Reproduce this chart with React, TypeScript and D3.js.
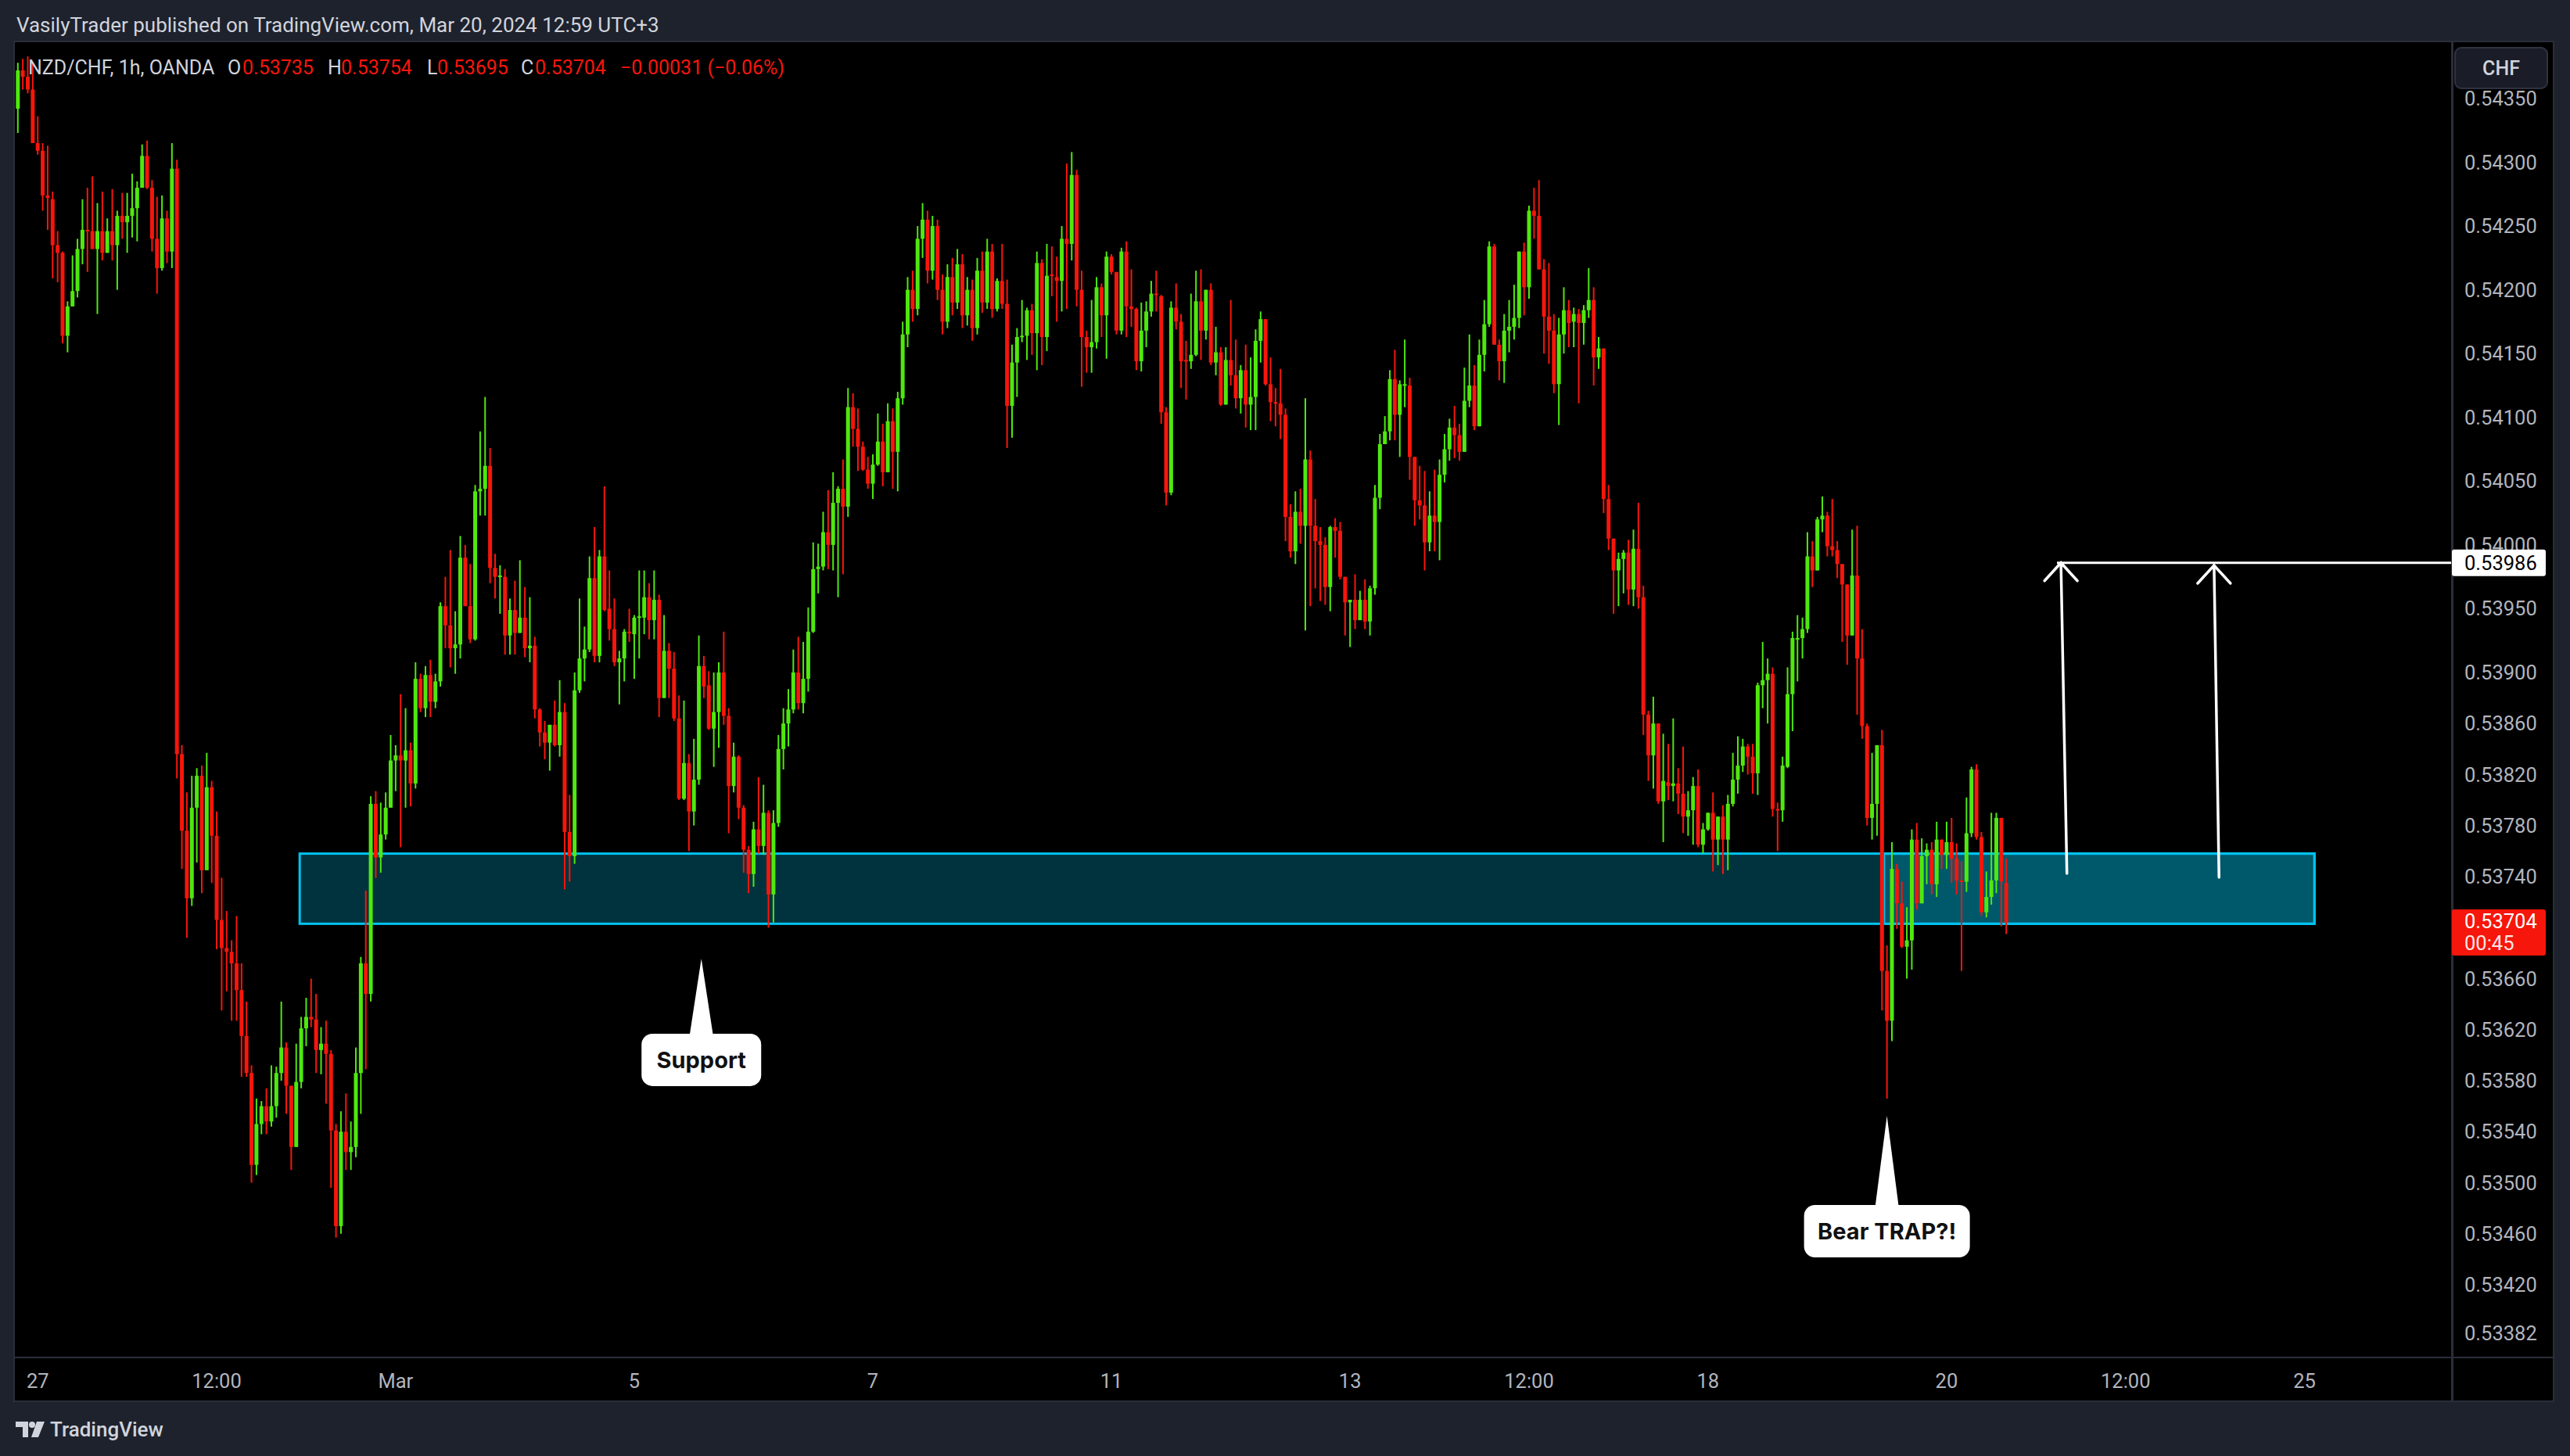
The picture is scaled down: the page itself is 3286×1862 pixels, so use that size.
import React, { useEffect } from "react";
import * as d3 from "d3";

// ---- OHLC data, hourly bars, in 1e-5 units (0.53735 -> 53735) ----
const OPEN = [
  54342,54372,54367,54357,54315,54309,54274,54271,54235,54229,
  54164,54187,54199,54232,54247,54246,54232,54246,54229,54246,
  54235,54258,54253,54258,54264,54280,54305,54280,54240,54217,
  54256,54230,54295,53836,53776,53723,53794,53819,53745,53810,
  53772,53706,53684,53681,53672,53651,53615,53586,53514,53546,
  53560,53548,53560,53586,53606,53576,53528,53579,53621,53630,
  53628,53604,53609,53601,53541,53466,53540,53524,53528,53586,
  53672,53648,53797,53755,53773,53794,53831,53835,53831,53839,
  53813,53895,53872,53898,53877,53893,53952,53937,53919,53922,
  53990,53952,53926,54042,54044,54062,53982,53975,53975,53929,
  53949,53931,53943,53919,53921,53871,53853,53845,53859,53843,
  53869,53775,53756,53886,53911,53918,53974,53913,53991,53950,
  53934,53908,53911,53932,53930,53943,53943,53959,53941,53957,
  53880,53917,53903,53864,53801,53829,53791,53816,53905,53890,
  53856,53869,53900,53866,53811,53834,53794,53761,53742,53777,
  53764,53790,53726,53782,53840,53860,53871,53900,53876,53895,
  53932,53981,53983,54010,54000,54033,54044,54030,54108,54091,
  54077,54059,54048,54063,54081,54057,54097,54073,54115,54165,
  54200,54185,54240,54255,54215,54250,54200,54175,54210,54190,
  54220,54180,54200,54170,54215,54190,54230,54185,54207,54189,
  54109,54143,54163,54164,54184,54166,54221,54163,54212,54210,
  54207,54240,54236,54290,54200,54163,54155,54159,54202,54180,
  54226,54214,54168,54230,54187,54185,54144,54168,54183,54197,
  54195,54104,54041,54186,54175,54145,54144,54149,54191,54168,
  54200,54143,54151,54110,54145,54133,54115,54137,54110,54116,
  54160,54177,54126,54112,54111,54102,54022,53995,54026,54015,
  54067,54015,54003,54000,53967,54014,54011,53975,53955,53957,
  53941,53957,53940,53966,54037,54079,54089,54130,54102,54126,
  54125,54069,54035,54031,54002,54023,54018,54055,54075,54092,
  54086,54073,54113,54125,54093,54149,54173,54234,54157,54144,
  54168,54171,54178,54230,54202,54262,54258,54216,54179,54168,
  54126,54165,54184,54175,54181,54174,54184,54192,54147,54154,
  54036,54005,53980,53989,53994,53965,53997,53959,53867,53835,
  53860,53799,53814,53811,53813,53805,53787,53792,53811,53765,
  53777,53790,53769,53787,53769,53797,53816,53827,53842,53834,
  53821,53890,53894,53899,53793,53792,53826,53883,53927,53927,
  53934,53991,53980,54020,54023,53999,53996,53985,53969,53929,
  53976,53911,53858,53786,53797,53843,53666,53627,53746,53719,
  53685,53690,53769,53719,53756,53761,53734,53769,53757,53767,
  53754,53737,53736,53774,53824,53771,53712,53724,53737,53786,
  53735,
];
const HIGH = [
  54378,54381,54383,54378,54336,54315,54313,54277,54246,54230,
  54191,54227,54240,54271,54280,54289,54268,54277,54256,54279,
  54262,54276,54276,54291,54285,54314,54317,54286,54273,54274,
  54262,54315,54302,53843,53806,53819,53825,53827,53837,53815,
  53791,53739,53713,53690,53709,53672,53642,53592,53566,53564,
  53574,53592,53591,53642,53610,53576,53609,53630,53645,53660,
  53648,53622,53627,53604,53546,53556,53570,53548,53606,53677,
  53729,53803,53807,53798,53806,53851,53843,53883,53872,53845,
  53908,53899,53905,53910,53899,53955,53975,53996,53948,54007,
  54000,53985,54047,54089,54116,54076,53993,53984,53981,53958,
  53972,53988,53967,53959,53928,53872,53862,53859,53878,53894,
  53876,53804,53900,53958,53936,53991,54014,53996,54046,53980,
  53958,53917,53934,53950,53945,53980,53980,53970,53980,53961,
  53945,53923,53916,53882,53878,53836,53848,53929,53913,53901,
  53900,53908,53932,53872,53845,53835,53796,53764,53783,53818,
  53812,53792,53792,53851,53872,53887,53918,53928,53924,53951,
  54002,54001,54026,54043,54057,54046,54067,54123,54119,54107,
  54081,54069,54071,54103,54095,54111,54107,54120,54175,54210,
  54215,54250,54268,54262,54258,54255,54212,54220,54225,54232,
  54228,54210,54208,54225,54230,54240,54236,54209,54236,54208,
  54157,54170,54192,54186,54189,54230,54224,54236,54234,54226,
  54250,54299,54308,54294,54215,54168,54192,54210,54205,54230,
  54228,54214,54233,54238,54216,54186,54190,54191,54207,54215,
  54196,54108,54191,54205,54181,54160,54197,54215,54216,54200,
  54205,54171,54155,54155,54192,54161,54141,54157,54147,54169,
  54183,54177,54147,54123,54138,54107,54032,54042,54044,54115,
  54074,54036,54014,54006,54015,54021,54018,53975,53957,53977,
  53964,53973,53968,54047,54087,54101,54137,54153,54129,54161,
  54131,54069,54062,54058,54042,54059,54067,54087,54099,54109,
  54095,54139,54165,54141,54161,54192,54238,54236,54161,54181,
  54192,54204,54230,54237,54266,54280,54286,54224,54221,54181,
  54178,54202,54192,54186,54185,54188,54217,54202,54163,54154,
  54047,54005,53994,53996,54004,54012,54033,53968,53870,53881,
  53860,53852,53844,53864,53825,53842,53807,53818,53824,53782,
  53790,53806,53787,53796,53804,53837,53850,53848,53844,53844,
  53892,53924,53911,53904,53798,53834,53904,53932,53945,53943,
  54010,54003,54022,54038,54026,54036,54003,53985,53969,54012,
  54015,53934,53860,53837,53843,53855,53686,53767,53750,53736,
  53716,53777,53782,53770,53766,53767,53783,53769,53783,53786,
  53766,53752,53802,53826,53828,53775,53744,53790,53790,53786,
  53754,
];
const LOW = [
  54323,54357,54354,54315,54306,54262,54247,54209,54206,54158,
  54151,54187,54194,54220,54214,54232,54181,54223,54229,54223,
  54200,54240,54229,54241,54238,54280,54279,54230,54197,54215,
  54221,54217,53817,53746,53692,53717,53751,53727,53745,53735,
  53683,53635,53650,53627,53627,53583,53583,53500,53506,53538,
  53538,53544,53551,53580,53554,53510,53528,53574,53607,53622,
  53586,53585,53562,53496,53457,53460,53510,53510,53520,53554,
  53589,53642,53739,53743,53769,53794,53807,53763,53794,53795,
  53809,53869,53865,53865,53872,53889,53919,53904,53899,53911,
  53952,53923,53925,54023,54023,53970,53958,53946,53914,53914,
  53914,53931,53912,53908,53864,53842,53832,53823,53842,53834,
  53730,53736,53750,53884,53893,53916,53908,53908,53948,53925,
  53905,53875,53893,53924,53895,53911,53930,53926,53926,53865,
  53880,53880,53862,53800,53800,53760,53780,53812,53880,53855,
  53826,53841,53859,53774,53806,53785,53743,53727,53732,53758,
  53757,53700,53704,53779,53824,53842,53868,53871,53868,53885,
  53931,53962,53980,53981,53980,53959,53977,54022,54077,54058,
  54058,54044,54036,54062,54046,54057,54044,54042,54110,54155,
  54175,54180,54225,54205,54208,54192,54165,54170,54180,54185,
  54170,54172,54160,54165,54182,54185,54178,54183,54185,54076,
  54084,54116,54159,54145,54149,54137,54141,54152,54195,54175,
  54183,54185,54223,54187,54124,54135,54135,54154,54163,54146,
  54212,54165,54165,54163,54171,54137,54136,54155,54179,54183,
  54095,54031,54039,54169,54123,54114,54138,54148,54145,54161,
  54141,54133,54109,54110,54125,54107,54103,54092,54090,54090,
  54143,54125,54097,54093,54083,54003,53990,53985,54001,53933,
  53952,53966,53956,53953,53948,53990,53973,53929,53920,53934,
  53941,53934,53929,53961,54028,54079,54082,54082,54069,54108,
  54051,54015,54020,53980,53995,53995,53988,54049,54066,54068,
  54066,54073,54108,54090,54093,54136,54171,54157,54129,54127,
  54151,54161,54170,54180,54193,54240,54216,54150,54142,54119,
  54094,54150,54155,54155,54111,54157,54178,54125,54138,54025,
  53996,53946,53952,53962,53953,53952,53950,53851,53815,53809,
  53797,53767,53800,53799,53789,53774,53772,53765,53763,53758,
  53776,53744,53749,53742,53745,53795,53805,53822,53820,53805,
  53804,53872,53860,53787,53760,53783,53825,53854,53893,53911,
  53931,53967,53980,54010,53991,53991,53974,53924,53906,53929,
  53867,53848,53780,53769,53772,53635,53566,53611,53699,53684,
  53660,53667,53714,53719,53734,53726,53724,53746,53746,53735,
  53726,53666,53728,53771,53769,53709,53708,53718,53727,53701,
  53695,
];
const CLOSE = [
  54372,54367,54357,54315,54309,54274,54272,54235,54229,54164,
  54187,54199,54232,54247,54246,54232,54246,54229,54246,54235,
  54258,54253,54258,54264,54280,54305,54280,54240,54217,54256,
  54230,54295,53836,53776,53723,53794,53819,53745,53810,53772,
  53706,53684,53681,53672,53651,53615,53586,53514,53546,53560,
  53548,53560,53586,53606,53576,53528,53579,53621,53630,53628,
  53604,53609,53601,53541,53466,53540,53524,53528,53586,53672,
  53648,53797,53755,53773,53794,53831,53835,53831,53839,53813,
  53895,53872,53898,53877,53893,53952,53937,53919,53922,53990,
  53952,53926,54042,54044,54062,53982,53975,53976,53929,53949,
  53931,53943,53919,53921,53871,53853,53845,53859,53843,53869,
  53775,53756,53886,53911,53918,53974,53913,53991,53949,53934,
  53908,53911,53932,53931,53943,53944,53959,53941,53957,53880,
  53917,53903,53864,53801,53829,53791,53816,53905,53889,53856,
  53869,53900,53866,53811,53834,53794,53761,53742,53777,53764,
  53790,53726,53782,53840,53860,53871,53900,53876,53895,53932,
  53981,53983,54010,54000,54033,54044,54030,54108,54091,54077,
  54059,54048,54063,54081,54057,54097,54073,54115,54165,54200,
  54185,54240,54255,54215,54250,54200,54175,54210,54190,54220,
  54180,54200,54170,54215,54190,54230,54185,54207,54189,54109,
  54143,54163,54164,54184,54166,54221,54163,54211,54211,54207,
  54240,54236,54290,54200,54163,54155,54159,54202,54180,54226,
  54214,54168,54230,54187,54185,54144,54168,54183,54197,54196,
  54104,54041,54186,54175,54144,54144,54149,54191,54168,54200,
  54143,54151,54110,54145,54133,54115,54137,54110,54116,54160,
  54177,54126,54112,54111,54102,54022,53995,54026,54015,54067,
  54015,54003,54000,53967,54014,54011,53975,53955,53957,53941,
  53957,53940,53966,54037,54079,54089,54130,54102,54126,54126,
  54069,54035,54031,54002,54023,54018,54055,54075,54092,54086,
  54073,54113,54125,54093,54149,54173,54234,54157,54144,54168,
  54171,54178,54230,54202,54262,54258,54216,54179,54168,54126,
  54165,54184,54174,54181,54174,54184,54192,54147,54154,54036,
  54005,53980,53989,53994,53965,53997,53959,53867,53835,53860,
  53799,53815,53811,53813,53805,53787,53792,53811,53765,53777,
  53790,53769,53787,53769,53797,53816,53827,53842,53834,53821,
  53890,53894,53899,53793,53792,53827,53883,53927,53927,53934,
  53991,53980,54020,54023,53999,53996,53985,53969,53929,53976,
  53911,53858,53786,53797,53843,53666,53627,53746,53719,53685,
  53690,53769,53719,53756,53761,53734,53769,53757,53767,53754,
  53737,53736,53774,53824,53771,53712,53724,53737,53786,53736,
  53704,
];

// ---- axes ----
const PRICE_TICKS = [0.5435, 0.543, 0.5425, 0.542, 0.5415, 0.541, 0.5405, 0.54, 0.5395, 0.539,
  0.5386, 0.5382, 0.5378, 0.5374, 0.5366, 0.5362, 0.5358, 0.5354, 0.535, 0.5346, 0.5342, 0.53382];
const TIME_LABELS = ["27", "12:00", "Mar", "5", "7", "11", "13", "12:00", "18", "20", "12:00", "25"];
const TIME_BARS = [4, 40, 76, 124, 172, 220, 268, 304, 340, 388, 424, 460];

// ---- drawings ----
const ZONE_TOP = 0.53758;
const ZONE_BOTTOM = 0.53703;
const ZONE_FROM = [56.7, 375.4];
const ZONE_TO = 462;
const TARGET_PRICE = 0.53986;
const TARGET_FROM = 410.2;
const ARROW_FROM_BAR = [412.2, 442.8];
const ARROW_TO_BAR = [411.0, 441.8];
const ARROW_FROM_PRICE = [0.537425, 0.537394];
const ARROW_TO_PRICE = [0.53986, 0.53984];
const CALLOUT_TEXT = ["Support", "Bear TRAP?!"];
const CALLOUT_BAR = [137.5, 376];
const CALLOUT_PRICE = [0.536757, 0.535524];
const CALLOUT_GAP = [96, 114];
const CALLOUT_W = [153, 212];

const LAST_PRICE = "0.53704";
const COUNTDOWN = "00:45";

const BG = "#1e222d";
const UP = "#4fe80e";
const DOWN = "#f6160b";
const AXIS_TXT = "#b2b5be";
const TXT = "#d1d4dc";
const SEP = "#2a2e39";

export default function App() {
  useEffect(() => {
    document.body.style.margin = "0";
    document.body.style.background = BG;
  }, []);

  const x = d3.scaleLinear().domain([0, 400]).range([22.8, 2565.2]);
  const y = d3.scaleLinear().domain([0.5342, 0.543]).range([1643, 207.5]);
  const py = (v: number) => y(v / 1e5);
  const bars = d3.range(OPEN.length);
  const bodyW = 5;

  const plotL = 19, plotT = 54, plotR = 3134, plotB = 1735;
  const axL = 3137, axR = 3264;

  return (
    <svg width={3286} height={1862} style={{ display: "block" }} fontFamily="Roboto, 'Liberation Sans', sans-serif">
      <rect x={0} y={0} width={3286} height={1862} fill={BG} />
      <rect x={17} y={52} width={axR - 17 + 2} height={1793 - 52} fill={SEP} />
      <rect x={plotL} y={plotT} width={plotR - plotL} height={plotB - plotT} fill="#000" />
      <rect x={axL} y={plotT} width={axR - axL} height={plotB - plotT} fill="#000" />
      <rect x={plotL} y={plotB + 2} width={plotR - plotL} height={54} fill="#000" />
      <rect x={axL} y={plotB + 2} width={axR - axL} height={54} fill="#000" />

      <defs>
        <clipPath id="plotclip">
          <rect x={plotL} y={plotT} width={plotR - plotL} height={plotB - plotT} />
        </clipPath>
      </defs>

      <g clipPath="url(#plotclip)">
        {/* zone rectangles */}
        {ZONE_FROM.map((f, k) => (
          <rect key={"z" + k} x={x(f)} y={y(ZONE_TOP)} width={x(ZONE_TO) - x(f)}
            height={y(ZONE_BOTTOM) - y(ZONE_TOP)} fill="rgba(0,188,230,0.27)"
            stroke="#00c3f0" strokeWidth={3} />
        ))}

        {/* candles */}
        {bars.map((i) => {
          const o = OPEN[i], c = CLOSE[i], h = HIGH[i], l = LOW[i];
          const col = c >= o ? UP : DOWN;
          const cx = x(i);
          const top = py(Math.max(o, c));
          const bot = py(Math.min(o, c));
          return (
            <g key={i}>
              <line x1={cx} x2={cx} y1={py(h)} y2={py(l)} stroke={col} strokeWidth={2} />
              <rect x={cx - bodyW / 2} y={top} width={bodyW} height={Math.max(2, bot - top)} fill={col} />
            </g>
          );
        })}

        {/* target line and arrows */}
        <line x1={x(TARGET_FROM)} x2={plotR} y1={y(TARGET_PRICE)} y2={y(TARGET_PRICE)} stroke="#fff" strokeWidth={3} />
        {ARROW_FROM_BAR.map((b, k) => {
          const x1 = x(b), y1 = y(ARROW_FROM_PRICE[k]);
          const x2 = x(ARROW_TO_BAR[k]), y2 = y(ARROW_TO_PRICE[k]);
          return (
            <g key={"a" + k} stroke="#fff" strokeWidth={3.5} strokeLinecap="round" fill="none">
              <line x1={x1} y1={y1} x2={x2} y2={y2} />
              <polyline points={`${x2 - 21},${y2 + 23} ${x2},${y2} ${x2 + 21},${y2 + 23}`} />
            </g>
          );
        })}

        {/* callouts */}
        {CALLOUT_TEXT.map((t, k) => {
          const tx = x(CALLOUT_BAR[k]);
          const ty = y(CALLOUT_PRICE[k]);
          const bt = ty + CALLOUT_GAP[k];
          const w = CALLOUT_W[k];
          const hgt = 67;
          return (
            <g key={"c" + k}>
              <path d={`M${tx},${ty} L${tx + 15},${bt + 2} L${tx - 15},${bt + 2} Z`} fill="#fff" />
              <rect x={tx - w / 2} y={bt} width={w} height={hgt} rx={14} fill="#fff" />
              <text x={tx} y={bt + hgt / 2} textAnchor="middle" dominantBaseline="central"
                fontFamily="Inter, Roboto, sans-serif" fontWeight={700} fontSize={29} fill="#111">{t}</text>
            </g>
          );
        })}

        {/* legend */}
        <g fontSize={25} dominantBaseline="central">
          <text x={36} y={86} fill={TXT}>NZD/CHF, 1h, OANDA</text>
          <text x={291} y={86} fill={TXT}>O</text>
          <text x={310} y={86} fill={DOWN}>0.53735</text>
          <text x={419} y={86} fill={TXT}>H</text>
          <text x={436} y={86} fill={DOWN}>0.53754</text>
          <text x={546} y={86} fill={TXT}>L</text>
          <text x={559} y={86} fill={DOWN}>0.53695</text>
          <text x={666} y={86} fill={TXT}>C</text>
          <text x={684} y={86} fill={DOWN}>0.53704</text>
          <text x={793} y={86} fill={DOWN}>−0.00031 (−0.06%)</text>
        </g>
      </g>

      {/* price axis */}
      <g fontSize={25.5} fill={AXIS_TXT} dominantBaseline="central">
        {PRICE_TICKS.map((p) => (
          <text key={p} x={3151} y={y(p)}>{p.toFixed(5)}</text>
        ))}
      </g>
      <rect x={3135} y={y(TARGET_PRICE) - 17} width={120} height={34} rx={3} fill="#fff" />
      <text x={3151} y={y(TARGET_PRICE)} fontSize={25.5} fill="#000" dominantBaseline="central">{TARGET_PRICE.toFixed(5)}</text>
      <rect x={3135} y={1163} width={120} height={59} rx={3} fill={DOWN} />
      <text x={3151} y={1178} fontSize={25.5} fill="#fff" dominantBaseline="central">{LAST_PRICE}</text>
      <text x={3151} y={1206} fontSize={25.5} fill="#fde6e4" dominantBaseline="central">{COUNTDOWN}</text>

      <rect x={3139} y={61} width={118} height={52} rx={8} fill="#1a1d27" stroke="#2f3340" strokeWidth={2} />
      <text x={3198} y={87} textAnchor="middle" dominantBaseline="central" fontSize={25} fontWeight={500} fill={TXT}>CHF</text>

      {/* time axis */}
      <g fontSize={25.5} fill={AXIS_TXT} textAnchor="middle" dominantBaseline="central">
        {TIME_LABELS.map((t, k) => (
          <text key={k} x={x(TIME_BARS[k])} y={1766}>{t}</text>
        ))}
      </g>

      {/* header */}
      <text x={21} y={32} fontSize={26} fill={TXT} dominantBaseline="central">
        VasilyTrader published on TradingView.com, Mar 20, 2024 12:59 UTC+3
      </text>

      {/* footer logo */}
      <g fill={TXT}>
        <path d="M20,1818 H36 V1838 H29 V1825 H20 Z" />
        <circle cx={41} cy={1822} r={4} />
        <path d="M47,1818 H57 L49,1838 H40 Z" />
        <text x={64} y={1828} fontSize={26} fontWeight={500} dominantBaseline="central">TradingView</text>
      </g>
    </svg>
  );
}
